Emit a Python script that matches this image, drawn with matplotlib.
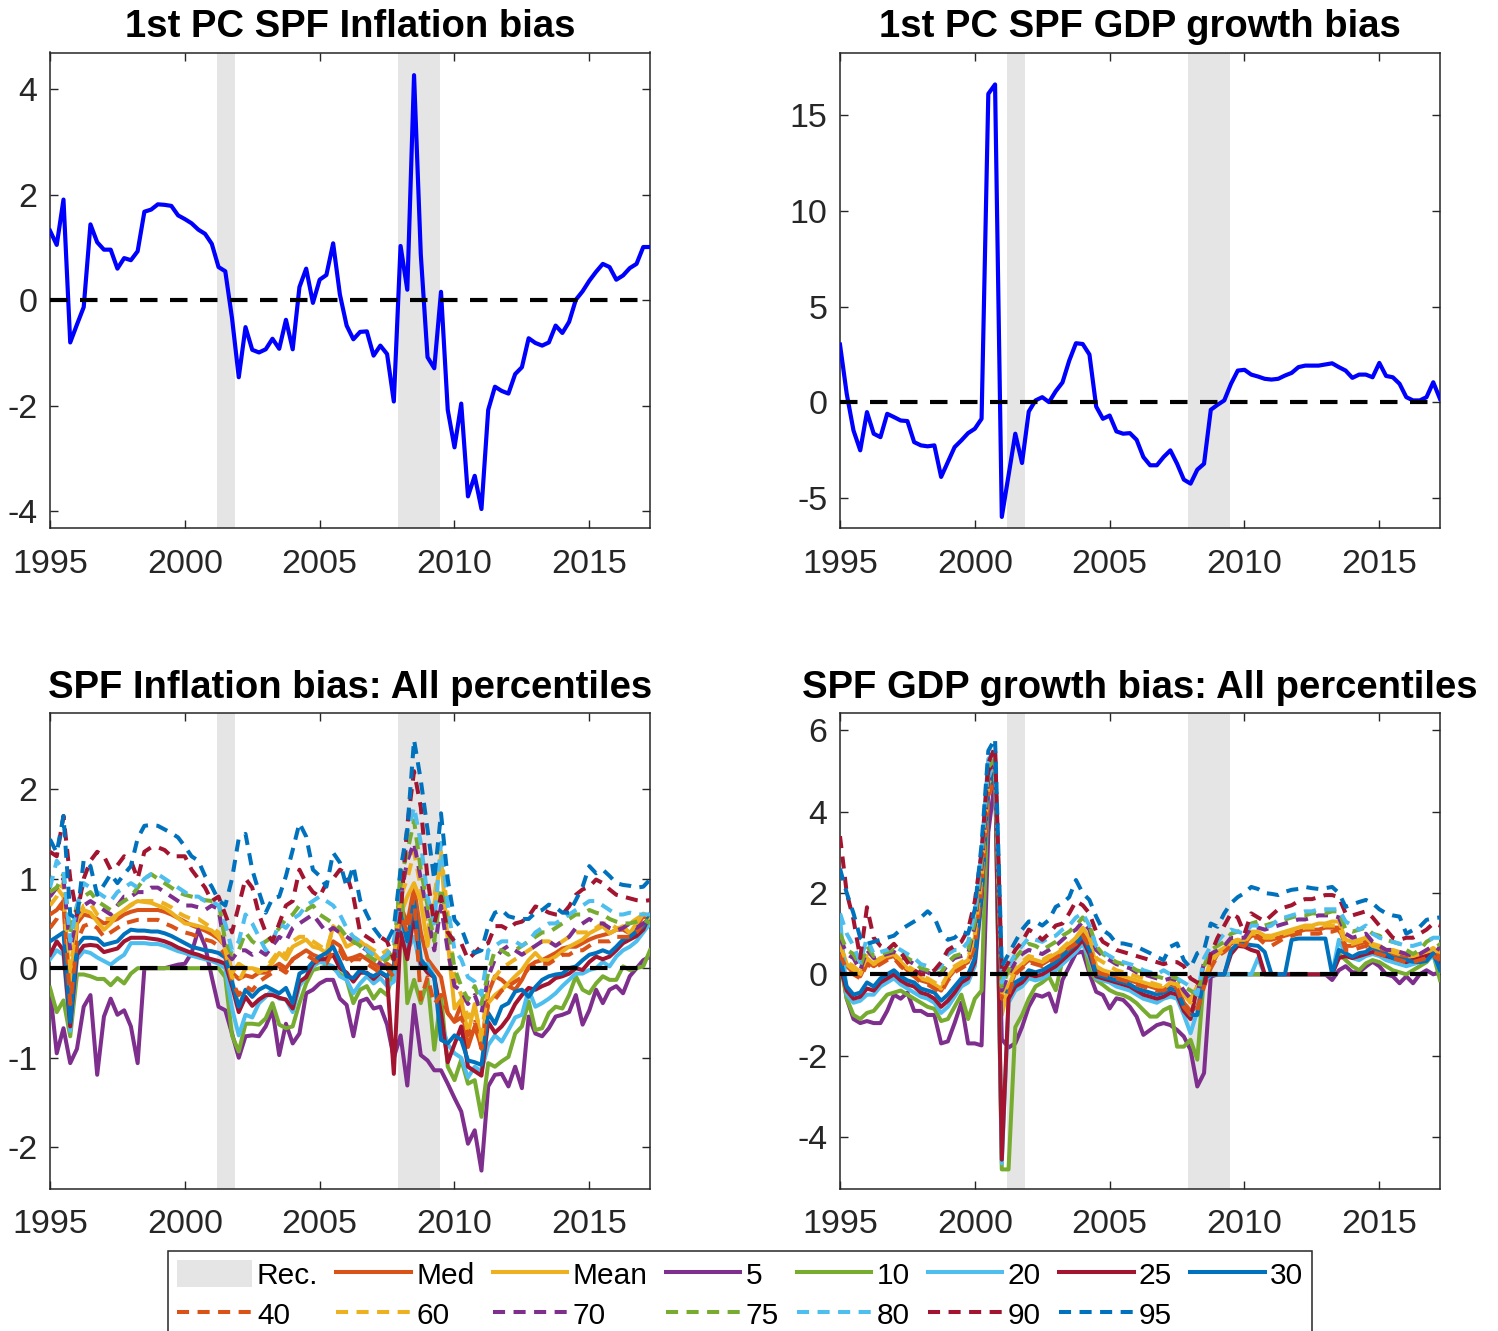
import matplotlib.pyplot as plt
import numpy as np
from matplotlib.patches import Patch

plt.rcParams['font.family'] = ['Liberation Sans', 'DejaVu Sans']
plt.rcParams['axes.unicode_minus'] = False

# quarterly dates 1995Q1 .. 2017Q2
dates = np.arange(1995, 2017.26, 0.25)

rec_start = [2001.2, 2007.92]
rec_end = [2001.85, 2009.45]

# ---- 1st principal component of the biases ----
inf_pc = [1.32, 1.05, 1.91, -0.80, -0.46, -0.13, 1.44, 1.10, 0.96, 0.96,
          0.60, 0.80, 0.76, 0.93, 1.68, 1.72, 1.82, 1.81, 1.79, 1.61,
          1.54, 1.46, 1.34, 1.26, 1.07, 0.63, 0.55, -0.34, -1.46, -0.51,
          -0.94, -0.99, -0.93, -0.73, -0.92, -0.37, -0.93, 0.25, 0.60, -0.05,
          0.39, 0.48, 1.08, 0.11, -0.48, -0.74, -0.60, -0.59, -1.05, -0.86,
          -1.02, -1.92, 1.03, 0.20, 4.27, 0.87, -1.08, -1.29, 0.16, -2.08,
          -2.79, -1.96, -3.72, -3.33, -3.96, -2.08, -1.64, -1.72, -1.77, -1.40,
          -1.27, -0.72, -0.81, -0.86, -0.80, -0.48, -0.62, -0.41, 0.01, 0.17,
          0.37, 0.54, 0.69, 0.63, 0.39, 0.47, 0.61, 0.69, 1.01, 1.01]

gdp_pc = [3.01, 0.43, -1.48, -2.52, -0.52, -1.65, -1.83, -0.61, -0.78, -0.96,
          -0.99, -2.09, -2.26, -2.31, -2.26, -3.91, -3.13, -2.35, -2.00, -1.62,
          -1.39, -0.87, 16.12, 16.61, -6.00, -3.83, -1.65, -3.18, -0.49, 0.09,
          0.26, 0.00, 0.57, 1.03, 2.17, 3.08, 3.04, 2.49, -0.23, -0.87,
          -0.70, -1.53, -1.65, -1.62, -1.97, -2.87, -3.30, -3.30, -2.87, -2.52,
          -3.22, -4.05, -4.26, -3.53, -3.22, -0.40, -0.14, 0.09, 0.96, 1.65,
          1.69, 1.44, 1.34, 1.22, 1.18, 1.22, 1.39, 1.53, 1.83, 1.91,
          1.91, 1.91, 1.97, 2.03, 1.83, 1.65, 1.27, 1.44, 1.44, 1.30,
          2.05, 1.37, 1.30, 0.96, 0.26, 0.09, 0.09, 0.26, 1.04, 0.17]

# ---- SPF inflation bias by percentile ----
inf_med = [0.60, 0.65, 0.75, -0.55, 0.50, 0.60, 0.58, 0.55, 0.50, 0.52,
           0.55, 0.60, 0.63, 0.65, 0.65, 0.65, 0.65, 0.63, 0.60, 0.56,
           0.52, 0.48, 0.45, 0.42, 0.38, 0.33, 0.25, -0.05, -0.12, -0.08,
           -0.10, -0.05, -0.05, 0.00, 0.05, 0.00, 0.10, 0.15, 0.20, 0.15,
           0.12, 0.10, 0.30, 0.25, 0.10, 0.12, 0.15, 0.10, 0.05, 0.00,
           0.05, 0.00, 0.70, 0.50, 0.90, 0.40, 0.10, 0.00, -0.10, -0.50,
           -0.60, -0.40, -0.88, -0.65, -0.88, -0.28, -0.09, -0.13, -0.20, -0.24,
           -0.13, 0.02, 0.07, 0.09, 0.13, 0.17, 0.22, 0.24, 0.24, 0.28,
           0.32, 0.35, 0.37, 0.39, 0.43, 0.43, 0.39, 0.47, 0.58, 0.54]
inf_mean = [0.85, 0.90, 0.80, -0.20, 0.55, 0.65, 0.62, 0.52, 0.43, 0.50,
            0.60, 0.65, 0.71, 0.75, 0.74, 0.73, 0.70, 0.67, 0.62, 0.56,
            0.50, 0.49, 0.47, 0.45, 0.42, 0.35, 0.25, -0.05, 0.05, 0.00,
            0.00, -0.02, -0.02, 0.06, 0.17, 0.10, 0.24, 0.28, 0.32, 0.24,
            0.22, 0.17, 0.47, 0.40, 0.24, 0.28, 0.30, 0.24, 0.17, 0.09,
            0.17, 0.09, 0.60, 0.80, 0.95, 0.75, 0.25, 0.70, 1.25, 0.30,
            -0.45, -0.35, -0.73, -0.40, -0.84, -0.39, -0.30, -0.24, -0.17, -0.09,
            -0.02, 0.09, 0.17, 0.09, 0.09, 0.13, 0.19, 0.24, 0.28, 0.32,
            0.39, 0.43, 0.47, 0.39, 0.43, 0.47, 0.39, 0.50, 0.61, 0.58]
inf_p5 = [-0.24, -0.95, -0.67, -1.06, -0.90, -0.43, -0.30, -1.19, -0.54, -0.34,
          -0.52, -0.47, -0.65, -1.06, 0.00, 0.00, 0.00, 0.00, 0.02, 0.04,
          0.05, 0.17, 0.43, 0.25, -0.10, -0.43, -0.47, -0.73, -1.00, -0.76,
          -0.75, -0.76, -0.65, -0.47, -0.97, -0.62, -0.84, -0.73, -0.28, -0.24,
          -0.17, -0.13, -0.13, -0.34, -0.41, -0.76, -0.37, -0.34, -0.45, -0.43,
          -0.63, -1.00, -0.75, -1.31, -0.41, -0.97, -1.03, -1.14, -1.14, -1.29,
          -1.45, -1.60, -1.96, -1.81, -2.26, -1.32, -1.19, -1.18, -1.32, -1.10,
          -1.34, -0.54, -0.73, -0.76, -0.67, -0.54, -0.52, -0.49, -0.30, -0.63,
          -0.47, -0.24, -0.39, -0.24, -0.20, -0.28, -0.09, 0.00, 0.09, 0.13]
inf_p10 = [-0.22, -0.49, -0.36, -0.76, -0.07, -0.07, -0.09, -0.12, -0.12, -0.19,
           -0.11, -0.17, -0.06, 0.00, 0.00, 0.00, 0.00, 0.00, 0.00, 0.00,
           0.00, 0.00, 0.00, 0.00, 0.00, 0.00, -0.10, -0.75, -0.93, -0.62,
           -0.62, -0.63, -0.56, -0.39, -0.63, -0.67, -0.65, -0.39, -0.17, -0.02,
           0.00, 0.02, 0.00, -0.06, -0.13, -0.39, -0.24, -0.20, -0.34, -0.24,
           -0.30, 0.00, 1.10, -0.39, -0.13, -0.39, -0.13, -0.91, -0.30, -1.10,
           -1.25, -1.02, -1.29, -1.25, -1.66, -1.06, -1.10, -1.04, -0.99, -0.73,
           -0.65, -0.37, -0.69, -0.67, -0.50, -0.43, -0.45, -0.30, -0.09, -0.24,
           -0.28, -0.17, -0.09, -0.13, -0.13, 0.02, -0.02, 0.00, 0.02, 0.20]
inf_p20 = [0.10, 0.20, 0.15, -0.70, 0.10, 0.19, 0.17, 0.12, 0.08, 0.04,
           0.10, 0.15, 0.28, 0.28, 0.28, 0.27, 0.27, 0.25, 0.22, 0.19,
           0.17, 0.14, 0.12, 0.10, 0.08, 0.05, 0.00, -0.45, -0.75, -0.52,
           -0.55, -0.39, -0.32, -0.24, -0.34, -0.35, -0.49, -0.20, -0.09, 0.02,
           0.07, 0.05, 0.02, -0.09, -0.13, -0.28, -0.17, -0.09, -0.17, -0.11,
           -0.20, -0.15, 0.50, 0.20, 0.35, 0.00, 0.05, -0.10, -0.60, -0.85,
           -0.95, -1.00, -1.22, -1.10, -1.15, -0.86, -0.75, -0.82, -0.69, -0.55,
           -0.52, -0.24, -0.43, -0.39, -0.34, -0.28, -0.20, -0.13, -0.06, -0.06,
           -0.02, 0.00, 0.07, 0.02, 0.13, 0.20, 0.24, 0.30, 0.40, 0.50]
inf_p25 = [0.15, 0.30, 0.20, -0.65, 0.15, 0.25, 0.26, 0.25, 0.18, 0.20,
           0.22, 0.30, 0.34, 0.34, 0.34, 0.33, 0.32, 0.30, 0.27, 0.23,
           0.20, 0.17, 0.15, 0.12, 0.10, 0.08, 0.05, -0.20, -0.49, -0.32,
           -0.42, -0.35, -0.30, -0.30, -0.33, -0.35, -0.45, -0.15, -0.10, 0.05,
           0.10, 0.10, 0.15, 0.00, -0.05, -0.15, -0.05, -0.05, -0.12, -0.05,
           -0.10, -1.18, 0.40, 0.10, 0.60, 0.05, -0.05, -0.10, -0.50, -1.05,
           -0.85, -0.65, -1.10, -1.15, -1.20, -0.60, -0.72, -0.65, -0.55, -0.40,
           -0.30, -0.22, -0.24, -0.20, -0.17, -0.11, -0.09, -0.06, 0.00, -0.02,
           0.07, 0.13, 0.10, 0.13, 0.20, 0.28, 0.32, 0.36, 0.43, 0.60]
inf_p30 = [0.30, 0.35, 0.40, -0.60, 0.25, 0.34, 0.34, 0.33, 0.26, 0.28,
           0.30, 0.38, 0.43, 0.42, 0.42, 0.41, 0.41, 0.39, 0.36, 0.32,
           0.28, 0.24, 0.22, 0.20, 0.19, 0.17, 0.12, -0.15, -0.43, -0.24,
           -0.32, -0.24, -0.20, -0.24, -0.28, -0.22, -0.39, -0.06, -0.02, 0.07,
           0.13, 0.17, 0.24, 0.08, -0.09, -0.11, -0.02, -0.06, -0.09, -0.04,
           -0.09, 0.03, 0.60, 0.30, 0.75, 0.10, 0.00, -0.10, -0.80, -0.84,
           -0.75, -0.80, -1.03, -1.05, -1.08, -0.50, -0.62, -0.43, -0.39, -0.26,
           -0.24, -0.32, -0.21, -0.13, -0.09, -0.07, -0.06, 0.00, 0.02, 0.09,
           0.15, 0.17, 0.20, 0.17, 0.24, 0.32, 0.35, 0.41, 0.47, 0.58]
inf_p40 = [0.45, 0.55, 0.75, -0.40, 0.30, 0.47, 0.50, 0.45, 0.35, 0.40,
           0.45, 0.50, 0.52, 0.54, 0.54, 0.54, 0.54, 0.50, 0.47, 0.43,
           0.40, 0.38, 0.35, 0.32, 0.30, 0.25, 0.15, -0.15, -0.30, -0.20,
           -0.25, -0.15, -0.10, -0.05, 0.00, -0.05, 0.10, 0.15, 0.15, 0.10,
           0.05, 0.05, 0.20, 0.20, 0.05, 0.10, 0.10, 0.05, 0.00, -0.05,
           0.00, -0.10, 0.60, 0.40, 0.80, -0.35, -0.10, -0.40, -0.30, -0.50,
           -0.60, -0.55, -0.75, -0.60, -0.90, -0.40, -0.35, -0.25, -0.20, -0.15,
           -0.10, 0.00, 0.05, 0.05, 0.05, 0.10, 0.15, 0.15, 0.20, 0.20,
           0.25, 0.30, 0.30, 0.30, 0.35, 0.35, 0.35, 0.40, 0.50, 0.45]
inf_p60 = [0.70, 0.80, 0.95, 0.00, 0.50, 0.70, 0.72, 0.60, 0.55, 0.55,
           0.60, 0.65, 0.70, 0.75, 0.75, 0.75, 0.75, 0.72, 0.68, 0.62,
           0.58, 0.55, 0.55, 0.50, 0.45, 0.40, 0.20, -0.10, -0.15, 0.00,
           0.00, -0.05, 0.00, 0.10, 0.20, 0.15, 0.30, 0.35, 0.35, 0.30,
           0.25, 0.20, 0.45, 0.40, 0.30, 0.35, 0.30, 0.25, 0.20, 0.15,
           0.20, 0.10, 0.80, 1.00, 1.30, 0.90, 0.40, 0.80, 1.30, 0.60,
           -0.10, -0.30, -0.55, -0.45, -0.75, -0.20, -0.10, 0.00, 0.05, 0.10,
           0.15, 0.20, 0.25, 0.30, 0.30, 0.25, 0.30, 0.35, 0.40, 0.40,
           0.40, 0.45, 0.50, 0.50, 0.45, 0.45, 0.50, 0.55, 0.60, 0.55]
inf_p70 = [0.80, 0.90, 1.00, 0.20, 0.60, 0.70, 0.75, 0.70, 0.65, 0.60,
           0.70, 0.80, 0.80, 0.85, 0.85, 0.90, 0.90, 0.85, 0.80, 0.75,
           0.70, 0.70, 0.68, 0.65, 0.70, 0.66, 0.20, 0.10, 0.20, 0.20,
           0.15, 0.20, 0.15, 0.25, 0.35, 0.30, 0.45, 0.50, 0.55, 0.60,
           0.50, 0.40, 0.45, 0.40, 0.35, 0.30, 0.25, 0.20, 0.10, 0.05,
           0.00, 0.10, 0.80, 1.20, 1.40, 1.00, 0.60, 0.20, 0.70, 0.20,
           -0.20, -0.25, -0.40, -0.30, -0.50, -0.10, 0.10, 0.20, 0.25, 0.20,
           0.15, 0.20, 0.25, 0.30, 0.30, 0.25, 0.30, 0.35, 0.45, 0.50,
           0.55, 0.50, 0.50, 0.45, 0.42, 0.45, 0.50, 0.45, 0.50, 0.55]
inf_p75 = [0.85, 0.90, 1.05, 0.40, 0.70, 0.80, 0.85, 0.75, 0.70, 0.65,
           0.70, 0.75, 0.80, 0.90, 1.00, 1.05, 1.00, 0.95, 0.90, 0.85,
           0.82, 0.80, 0.78, 0.76, 0.75, 0.74, 0.30, 0.15, 0.20, 0.40,
           0.30, 0.25, 0.30, 0.35, 0.45, 0.55, 0.60, 0.70, 0.65, 0.70,
           0.60, 0.55, 0.50, 0.45, 0.35, 0.30, 0.25, 0.15, 0.10, 0.05,
           0.10, 0.20, 1.00, 1.30, 1.65, 1.10, 0.70, 0.30, 0.90, 0.50,
           0.00, -0.20, -0.35, -0.20, -0.40, -0.05, 0.20, 0.20, 0.15, 0.20,
           0.25, 0.30, 0.35, 0.40, 0.40, 0.45, 0.50, 0.55, 0.60, 0.60,
           0.65, 0.62, 0.60, 0.55, 0.52, 0.50, 0.50, 0.52, 0.55, 0.50]
inf_p80 = [0.90, 1.20, 1.10, 0.30, 0.70, 0.95, 0.90, 0.85, 0.80, 0.75,
           0.85, 0.90, 0.95, 0.90, 1.00, 1.05, 1.05, 1.00, 0.95, 0.90,
           0.85, 0.80, 0.80, 0.75, 0.75, 0.70, 0.50, 0.20, 0.30, 0.60,
           0.50, 0.35, 0.20, 0.30, 0.50, 0.45, 0.55, 0.60, 0.70, 0.75,
           0.80, 0.75, 0.70, 0.60, 0.45, 0.35, 0.30, 0.20, 0.15, 0.10,
           0.15, 0.30, 0.80, 1.50, 1.80, 1.40, 0.80, 0.50, 1.40, 0.70,
           0.20, 0.10, -0.10, -0.15, -0.30, 0.20, 0.25, 0.30, 0.30, 0.30,
           0.25, 0.30, 0.40, 0.45, 0.50, 0.50, 0.55, 0.60, 0.65, 0.70,
           0.75, 0.75, 0.70, 0.65, 0.60, 0.60, 0.62, 0.60, 0.60, 0.60]
inf_p90 = [1.30, 1.25, 1.70, 1.00, 0.60, 1.00, 1.20, 1.30, 1.25, 1.10,
           1.15, 1.25, 1.20, 1.00, 1.30, 1.35, 1.35, 1.32, 1.25, 1.25,
           1.25, 1.10, 1.00, 0.90, 0.75, 0.80, 0.60, 0.40, 0.70, 1.00,
           0.90, 0.60, 0.40, 0.30, 0.50, 0.70, 0.75, 1.10, 0.95, 0.85,
           0.80, 0.95, 1.00, 1.10, 1.05, 0.80, 0.40, 0.35, 0.30, 0.35,
           0.30, 0.10, 0.60, 1.60, 2.20, 1.80, 1.00, 0.50, 0.80, 0.40,
           0.30, 0.28, 0.10, 0.17, 0.25, 0.28, 0.47, 0.47, 0.43, 0.50,
           0.52, 0.58, 0.69, 0.66, 0.62, 0.60, 0.60, 0.69, 0.82, 0.88,
           0.91, 0.99, 0.95, 0.88, 0.82, 0.80, 0.78, 0.76, 0.75, 0.76]
inf_p95 = [1.44, 1.29, 1.70, 0.60, 0.55, 1.21, 1.14, 0.82, 0.93, 1.05,
           0.95, 1.05, 1.14, 1.45, 1.59, 1.60, 1.59, 1.55, 1.51, 1.46,
           1.36, 1.25, 1.20, 1.03, 0.91, 0.76, 0.70, 1.00, 1.45, 1.50,
           1.10, 0.85, 0.62, 0.78, 0.80, 1.03, 1.32, 1.62, 1.47, 1.10,
           1.03, 0.91, 1.29, 1.18, 0.91, 1.14, 0.76, 0.60, 0.45, 0.35,
           0.30, 0.45, 1.10, 1.55, 2.55, 2.10, 1.55, 0.99, 1.73, 0.99,
           0.54, 0.45, 0.25, 0.17, 0.20, 0.47, 0.62, 0.65, 0.58, 0.56,
           0.55, 0.55, 0.62, 0.65, 0.71, 0.68, 0.62, 0.62, 0.76, 0.91,
           1.14, 1.06, 1.10, 1.03, 0.95, 0.93, 0.92, 0.90, 0.91, 0.99]

# ---- SPF GDP growth bias by percentile ----
gdp_med = [0.60, 0.20, 0.05, -0.05, 0.30, 0.20, 0.30, 0.40, 0.45, 0.25,
           0.10, 0.00, -0.15, -0.20, -0.30, -0.40, -0.10, 0.10, 0.20, 0.30,
           0.80, 2.20, 4.50, 4.90, -0.80, -0.40, 0.05, 0.20, 0.35, 0.30,
           0.25, 0.35, 0.45, 0.55, 0.70, 0.85, 1.05, 0.80, 0.10, 0.05,
           0.00, -0.05, -0.10, -0.15, -0.20, -0.25, -0.30, -0.35, -0.35, -0.25,
           -0.30, -0.70, -0.90, -0.80, -0.20, 0.20, 0.50, 0.60, 0.75, 0.85,
           0.75, 0.95, 0.95, 0.85, 0.85, 0.90, 0.95, 1.00, 1.05, 1.10,
           1.10, 1.10, 1.15, 1.15, 1.15, 0.70, 0.70, 0.75, 0.80, 0.65,
           0.60, 0.55, 0.50, 0.45, 0.40, 0.40, 0.45, 0.50, 0.55, 0.45]
gdp_mean = [0.75, 0.25, 0.10, 0.00, 0.40, 0.25, 0.35, 0.45, 0.50, 0.30,
            0.15, 0.05, -0.10, -0.15, -0.25, -0.35, -0.05, 0.15, 0.25, 0.35,
            0.90, 2.30, 4.60, 5.00, -1.00, -0.30, 0.10, 0.25, 0.40, 0.35,
            0.30, 0.40, 0.50, 0.60, 0.75, 0.90, 1.15, 0.90, 0.20, 0.10,
            0.05, 0.00, -0.05, -0.10, -0.15, -0.20, -0.25, -0.30, -0.35, -0.20,
            -0.25, -0.50, -0.60, -0.30, -0.15, 0.30, 0.55, 0.65, 0.80, 0.85,
            0.80, 1.05, 1.05, 0.95, 0.95, 1.00, 1.05, 1.10, 1.15, 1.20,
            1.20, 1.25, 1.25, 1.30, 1.30, 0.85, 0.80, 0.85, 0.90, 0.75,
            0.70, 0.60, 0.60, 0.55, 0.50, 0.50, 0.50, 0.55, 0.60, 0.55]
gdp_p5 = [0.50, -0.60, -1.10, -1.20, -1.15, -1.20, -1.20, -0.90, -0.50, -0.60,
          -0.45, -0.90, -0.90, -1.00, -1.00, -1.70, -1.65, -1.20, -0.70, -1.70,
          -1.70, -1.75, 3.50, 4.80, -1.60, -1.80, -1.70, -1.30, -0.80, -0.50,
          -0.55, -0.47, -0.92, -0.14, 0.19, 0.52, 0.56, 0.02, -0.43, -0.51,
          -0.84, -0.59, -0.63, -0.80, -1.04, -1.49, -1.37, -1.25, -1.20, -1.25,
          -1.37, -1.53, -1.86, -2.76, -2.43, -0.06, 0.00, 0.00, 0.00, 0.00,
          0.00, 0.00, 0.00, 0.00, 0.00, 0.00, 0.00, 0.00, 0.00, 0.00,
          0.00, 0.00, 0.00, -0.14, 0.10, 0.20, 0.05, 0.05, 0.19, 0.31,
          0.20, 0.00, -0.05, -0.22, -0.05, -0.22, 0.00, 0.10, 0.00, 0.05]
gdp_p10 = [0.30, -0.60, -1.00, -1.10, -0.95, -0.90, -0.70, -0.50, -0.45, -0.40,
           -0.50, -0.60, -0.70, -0.80, -0.85, -1.15, -1.10, -0.80, -0.50, -1.10,
           -0.60, -0.40, 4.80, 5.20, -4.80, -4.80, -1.30, -1.00, -0.60, -0.30,
           -0.20, -0.06, -0.39, 0.35, 0.52, 0.68, 0.93, 0.10, -0.14, -0.26,
           -0.39, -0.47, -0.51, -0.59, -0.71, -0.88, -1.04, -1.04, -0.88, -0.80,
           -1.78, -1.78, -1.61, -2.10, -0.06, 0.00, 0.00, 0.00, 0.00, 0.00,
           0.00, 0.00, 0.00, 0.00, 0.00, 0.00, 0.00, 0.00, 0.00, 0.00,
           0.00, 0.00, 0.00, 0.00, 0.50, 0.35, 0.20, 0.10, 0.27, 0.35,
           0.30, 0.20, 0.10, 0.05, 0.00, 0.10, 0.20, 0.30, 0.50, -0.14]
gdp_p20 = [1.40, -0.50, -0.70, -0.65, -0.50, -0.50, -0.30, -0.20, -0.10, -0.25,
           -0.35, -0.45, -0.55, -0.60, -0.70, -0.95, -0.80, -0.55, -0.30, -0.20,
           0.20, 1.80, 4.80, 5.10, -4.65, -0.70, -0.40, -0.30, -0.10, -0.15,
           -0.10, 0.00, 0.10, 0.25, 0.40, 0.55, 0.75, 0.40, -0.10, -0.15,
           -0.20, -0.30, -0.35, -0.40, -0.50, -0.60, -0.65, -0.70, -0.60, -0.55,
           -0.60, -1.00, -1.45, -0.90, -0.20, 0.00, 0.00, 0.00, 0.00, 0.00,
           0.00, 0.00, 0.40, 0.00, 0.00, 0.00, 0.00, 0.00, 0.00, 0.00,
           0.00, 0.00, 0.00, 0.00, 0.85, 0.50, 0.40, 0.35, 0.45, 0.50,
           0.45, 0.35, 0.30, 0.25, 0.20, 0.25, 0.30, 0.35, 0.45, 0.10]
gdp_p25 = [0.20, -0.40, -0.60, -0.55, -0.35, -0.40, -0.20, -0.10, 0.00, -0.15,
           -0.25, -0.30, -0.45, -0.50, -0.60, -0.80, -0.65, -0.45, -0.20, -0.10,
           0.30, 1.90, 5.00, 5.30, -4.56, -0.60, -0.30, -0.20, 0.00, -0.05,
           0.00, 0.10, 0.20, 0.35, 0.50, 0.65, 0.85, 0.50, -0.05, -0.10,
           -0.15, -0.20, -0.25, -0.30, -0.40, -0.50, -0.55, -0.60, -0.55, -0.45,
           -0.50, -0.90, -1.10, -0.30, 0.00, 0.00, 0.00, 0.00, 0.50, 0.70,
           0.68, 0.60, 0.55, 0.00, 0.00, 0.00, 0.00, 0.00, 0.00, 0.00,
           0.00, 0.00, 0.00, 0.00, 0.40, 0.45, 0.40, 0.45, 0.50, 0.55,
           0.50, 0.45, 0.40, 0.35, 0.30, 0.35, 0.40, 0.45, 0.50, 0.20]
gdp_p30 = [0.40, -0.30, -0.50, -0.45, -0.20, -0.30, -0.10, 0.00, 0.10, -0.05,
           -0.15, -0.20, -0.35, -0.40, -0.45, -0.65, -0.50, -0.30, -0.10, 0.00,
           0.40, 2.00, 4.50, 5.00, -0.40, -0.43, -0.20, -0.10, 0.10, 0.05,
           0.10, 0.20, 0.30, 0.45, 0.60, 0.75, 0.95, 0.60, 0.00, -0.05,
           -0.10, -0.15, -0.20, -0.25, -0.35, -0.40, -0.45, -0.50, -0.45, -0.35,
           -0.40, -0.80, -1.00, -1.00, -0.10, 0.00, 0.00, 0.00, 0.60, 0.75,
           0.75, 0.72, 0.70, 0.55, 0.00, 0.00, 0.00, 0.85, 0.88, 0.88,
           0.88, 0.88, 0.88, 0.00, 0.60, 0.52, 0.43, 0.52, 0.55, 0.68,
           0.52, 0.50, 0.40, 0.38, 0.35, 0.31, 0.30, 0.33, 0.52, 0.10]
gdp_p40 = [0.50, 0.10, 0.00, -0.10, 0.25, 0.15, 0.25, 0.35, 0.40, 0.20,
           0.05, -0.05, -0.20, -0.25, -0.35, -0.45, -0.15, 0.05, 0.15, 0.25,
           0.70, 2.10, 4.40, 4.80, -0.60, -0.50, 0.00, 0.15, 0.30, 0.25,
           0.20, 0.30, 0.40, 0.50, 0.65, 0.75, 0.95, 0.70, 0.05, 0.00,
           -0.05, -0.10, -0.15, -0.20, -0.25, -0.30, -0.35, -0.40, -0.40, -0.30,
           -0.35, -0.80, -1.00, -0.90, -0.30, 0.15, 0.45, 0.55, 0.70, 0.75,
           0.70, 0.90, 0.90, 0.75, 0.70, 0.80, 0.90, 0.95, 1.00, 1.00,
           1.00, 1.00, 1.05, 1.05, 1.10, 0.60, 0.60, 0.65, 0.70, 0.55,
           0.50, 0.45, 0.40, 0.35, 0.30, 0.30, 0.35, 0.40, 0.45, 0.35]
gdp_p60 = [0.70, 0.30, 0.20, 0.05, 0.45, 0.30, 0.40, 0.45, 0.50, 0.35,
           0.20, 0.10, -0.05, -0.10, -0.20, -0.30, 0.00, 0.20, 0.30, 0.40,
           1.00, 2.40, 4.70, 5.00, -0.50, -0.10, 0.20, 0.30, 0.45, 0.40,
           0.35, 0.45, 0.50, 0.65, 0.80, 0.90, 1.10, 0.90, 0.40, 0.30,
           0.20, 0.10, 0.05, 0.00, -0.05, -0.10, -0.20, -0.25, -0.30, -0.20,
           -0.25, -0.50, -0.70, -0.30, -0.20, 0.30, 0.50, 0.60, 0.80, 0.80,
           0.80, 1.00, 1.00, 0.90, 0.90, 0.95, 1.00, 1.05, 1.10, 1.15,
           1.15, 1.15, 1.20, 1.20, 1.20, 0.75, 0.75, 0.80, 0.85, 0.70,
           0.65, 0.60, 0.55, 0.50, 0.45, 0.45, 0.50, 0.55, 0.65, 0.50]
gdp_p70 = [0.90, 0.50, 0.40, 0.10, 0.60, 0.40, 0.45, 0.50, 0.55, 0.45,
           0.35, 0.25, 0.10, 0.05, -0.05, 0.00, 0.25, 0.40, 0.45, 0.50,
           1.20, 2.60, 4.80, 5.10, -0.40, 0.00, 0.30, 0.50, 0.60, 0.55,
           0.50, 0.60, 0.70, 0.85, 1.00, 1.10, 1.30, 1.10, 0.60, 0.45,
           0.35, 0.25, 0.20, 0.15, 0.05, 0.00, -0.05, -0.10, -0.15, -0.10,
           -0.15, -0.40, -0.60, -0.50, 0.30, 0.50, 0.60, 0.70, 0.90, 0.90,
           0.90, 1.15, 1.15, 1.10, 1.15, 1.20, 1.25, 1.30, 1.35, 1.35,
           1.40, 1.45, 1.45, 1.45, 1.40, 1.00, 0.90, 0.95, 1.00, 0.80,
           0.70, 0.60, 0.60, 0.55, 0.50, 0.45, 0.50, 0.60, 0.70, 0.60]
gdp_p75 = [1.00, 0.60, 0.50, 0.20, 0.70, 0.45, 0.50, 0.55, 0.60, 0.50,
           0.40, 0.30, 0.15, 0.10, 0.00, 0.05, 0.30, 0.45, 0.50, 0.60,
           1.30, 2.80, 5.10, 5.30, -0.30, 0.10, 0.40, 0.60, 0.75, 0.70,
           0.60, 0.70, 0.80, 0.95, 1.05, 1.20, 1.40, 1.20, 0.70, 0.50,
           0.40, 0.30, 0.25, 0.20, 0.10, 0.05, 0.00, -0.05, -0.10, -0.05,
           -0.10, -0.30, -0.40, -0.50, 0.20, 0.60, 0.70, 0.80, 1.00, 1.05,
           1.10, 1.25, 1.30, 1.20, 1.25, 1.30, 1.35, 1.40, 1.45, 1.45,
           1.50, 1.50, 1.50, 1.55, 1.55, 1.10, 1.05, 1.10, 1.15, 1.00,
           0.95, 0.85, 0.80, 0.75, 0.60, 0.50, 0.60, 0.80, 0.90, 0.70]
gdp_p80 = [1.50, 1.00, 0.70, 0.30, 0.90, 0.50, 0.55, 0.60, 0.70, 0.60,
           0.50, 0.40, 0.25, 0.20, 0.10, 0.20, 0.50, 0.60, 0.60, 0.80,
           1.50, 3.00, 5.30, 5.50, -0.20, 0.20, 0.50, 0.70, 0.90, 0.85,
           0.80, 0.90, 0.95, 1.10, 1.20, 1.40, 1.50, 1.20, 0.70, 0.55,
           0.45, 0.35, 0.30, 0.25, 0.20, 0.10, 0.05, 0.00, 0.10, 0.00,
           -0.10, -0.20, -0.30, -0.50, 0.40, 0.70, 0.80, 1.00, 1.10, 1.05,
           1.00, 1.20, 1.20, 1.15, 1.20, 1.35, 1.40, 1.45, 1.50, 1.55,
           1.55, 1.60, 1.60, 1.60, 1.60, 1.30, 1.20, 1.10, 1.20, 1.00,
           0.90, 0.85, 0.80, 0.75, 0.70, 0.70, 0.75, 0.80, 0.90, 0.90]
gdp_p90 = [3.40, 2.00, 1.35, 0.40, 1.65, 0.90, 0.70, 0.60, 0.75, 0.55,
           0.30, 0.10, 0.00, 0.00, 0.10, 0.30, 0.60, 0.70, 0.80, 1.10,
           1.80, 3.00, 5.20, 5.60, 0.00, 0.30, 0.60, 0.80, 1.10, 1.00,
           0.85, 1.00, 1.20, 1.25, 1.50, 1.80, 1.70, 1.50, 1.05, 0.80,
           0.70, 0.60, 0.55, 0.50, 0.45, 0.40, 0.35, 0.30, 0.25, 0.30,
           0.30, 0.20, -0.10, -0.20, -0.30, 0.50, 0.90, 1.20, 1.50, 1.40,
           1.00, 1.50, 1.40, 1.30, 1.45, 1.60, 1.65, 1.70, 1.80, 1.85,
           1.85, 1.90, 1.95, 1.95, 1.90, 1.50, 1.45, 1.50, 1.55, 1.40,
           1.20, 1.10, 0.90, 0.85, 0.90, 0.90, 1.00, 1.10, 1.25, 1.20]
gdp_p95 = [2.60, 2.00, 1.50, 0.90, 0.75, 0.80, 0.85, 0.90, 0.95, 1.10,
           1.20, 1.30, 1.40, 1.55, 1.40, 1.00, 0.85, 0.90, 1.05, 1.00,
           1.60, 3.20, 5.50, 5.80, 0.20, 0.50, 0.80, 1.10, 1.30, 1.30,
           1.20, 1.34, 1.66, 1.75, 1.90, 2.32, 2.00, 1.83, 1.42, 1.09,
           0.97, 0.76, 0.76, 0.72, 0.68, 0.60, 0.52, 0.43, 0.35, 0.68,
           0.76, 0.35, 0.16, 0.52, 0.60, 1.25, 1.17, 1.50, 1.75, 1.90,
           2.00, 2.15, 2.10, 2.00, 1.98, 1.95, 2.03, 2.08, 2.10, 2.15,
           2.12, 2.10, 2.12, 2.15, 2.00, 1.66, 1.72, 1.78, 1.83, 1.75,
           1.60, 1.50, 1.45, 1.42, 1.00, 1.09, 1.17, 1.34, 1.38, 1.40]

# label, colour, solid/dashed  (MATLAB default colour order)
series_labels = ['Med', 'Mean', '5', '10', '20', '25', '30',
                 '40', '60', '70', '75', '80', '90', '95']
series_colors = ['#D95319', '#EDB120', '#7E2F8E', '#77AC30', '#4DBEEE', '#A2142F', '#0072BD',
                 '#D95319', '#EDB120', '#7E2F8E', '#77AC30', '#4DBEEE', '#A2142F', '#0072BD']
series_dashed = [False] * 7 + [True] * 7

inf_series = [inf_med, inf_mean, inf_p5, inf_p10, inf_p20, inf_p25, inf_p30,
              inf_p40, inf_p60, inf_p70, inf_p75, inf_p80, inf_p90, inf_p95]
gdp_series = [gdp_med, gdp_mean, gdp_p5, gdp_p10, gdp_p20, gdp_p25, gdp_p30,
              gdp_p40, gdp_p60, gdp_p70, gdp_p75, gdp_p80, gdp_p90, gdp_p95]

REC_COLOR = '#E5E5E5'
AX_COLOR = '#262626'
ZERO_DASH = (0, (4.2, 3.0))
PCT_DASH = (0, (3.0, 2.1))

fig = plt.figure(figsize=(14.98, 13.31), dpi=100)
W, H = 1498, 1331


def make_axes(x0, y0, x1, y1):
    return fig.add_axes([x0 / W, 1 - y1 / H, (x1 - x0) / W, (y1 - y0) / H])


def decorate(ax, title, ylim, yticks):
    for a, b in zip(rec_start, rec_end):
        ax.axvspan(a, b, color=REC_COLOR, lw=0, zorder=0)
    ax.axhline(0, color='black', lw=3, linestyle=ZERO_DASH, zorder=5)
    ax.set_xlim(1995, 2017.25)
    ax.set_ylim(*ylim)
    ax.set_xticks([1995, 2000, 2005, 2010, 2015])
    ax.set_yticks(yticks)
    ax.tick_params(direction='in', length=6, width=1, top=True, right=True,
                   labelsize=24.5, colors=AX_COLOR)
    ax.tick_params(axis='x', pad=15)
    ax.tick_params(axis='y', pad=9)
    for s in ax.spines.values():
        s.set_color(AX_COLOR)
        s.set_linewidth(1.1)
    ax.set_title(title, fontsize=27.5, fontweight='bold', pad=11)


ax1 = make_axes(50, 52.5, 650, 528)
ax1.plot(dates, inf_pc, color='blue', lw=3, zorder=3)
decorate(ax1, '1st PC SPF Inflation bias', (-4.32, 4.70), [-4, -2, 0, 2, 4])

ax2 = make_axes(840, 52.5, 1440, 528)
ax2.plot(dates, gdp_pc, color='blue', lw=3, zorder=3)
decorate(ax2, '1st PC SPF GDP growth bias', (-6.58, 18.28), [-5, 0, 5, 10, 15])

ax3 = make_axes(50, 713, 650, 1188.5)
ax4 = make_axes(840, 713, 1440, 1188.5)
handles = []
for ax, data in ((ax3, inf_series), (ax4, gdp_series)):
    handles = []
    for vals, lab, col, dashed in zip(data, series_labels, series_colors, series_dashed):
        ln, = ax.plot(dates, vals, color=col, lw=2.9, label=lab,
                      linestyle=PCT_DASH if dashed else '-', zorder=3)
        handles.append(ln)
decorate(ax3, 'SPF Inflation bias: All percentiles', (-2.46, 2.85), [-2, -1, 0, 1, 2])
decorate(ax4, 'SPF GDP growth bias: All percentiles', (-5.27, 6.43), [-4, -2, 0, 2, 4, 6])

# legend: fill row-wise by interleaving (matplotlib fills column-wise)
rec_patch = Patch(facecolor=REC_COLOR, edgecolor='none', label='Rec.')
row1 = [rec_patch] + handles[:7]
row2 = handles[7:]
ordered = []
for i in range(8):
    ordered.append(row1[i])
    if i < len(row2):
        ordered.append(row2[i])
leg = fig.legend(handles=ordered, labels=[h.get_label() for h in ordered],
                 ncol=8, loc='upper left', bbox_to_anchor=(168 / W, 1 - 1251 / H),
                 fontsize=21.5, frameon=True, fancybox=False, edgecolor=AX_COLOR,
                 framealpha=1, handlelength=2.5, handleheight=1.0, handletextpad=0.18,
                 columnspacing=0.6, borderpad=0.3, labelspacing=0.35, borderaxespad=0)
leg.get_frame().set_linewidth(1.1)

fig.savefig('out.png', dpi=100)
